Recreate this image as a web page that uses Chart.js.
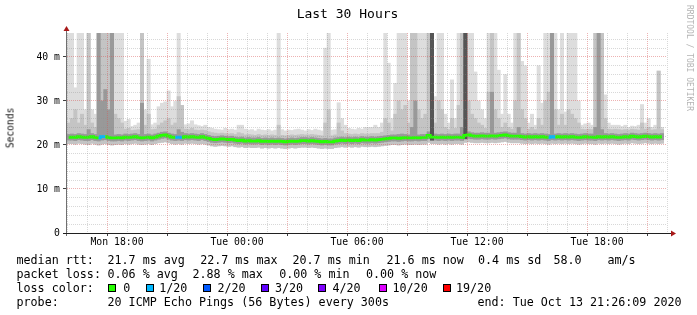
<!DOCTYPE html>
<html>
<head>
<meta charset="utf-8">
<script src="https://cdn.jsdelivr.net/npm/chart.js"></script>
<style>
  html, body { margin:0; padding:0; background:#fff; }
  #wrap { position:relative; width:697px; height:315px; overflow:hidden; background:#fff; }
  #c { position:absolute; left:0; top:0; }
  .txt { position:absolute; font-family:"DejaVu Sans Mono", monospace; white-space:pre; color:#000; }
  .leg { font-size:11.7px; line-height:14px; }
  .box { position:absolute; width:6px; height:6px; border:1px solid #000; }
</style>
</head>
<body>
<div id="wrap">
  <canvas id="c" width="697" height="315"></canvas>
  <div class="txt" style="left:0;width:695px;text-align:center;top:6px;font-size:13px;line-height:16px;">Last 30 Hours</div>
  <div class="txt" style="left:10px;top:127.5px;font-size:9.6px;line-height:11px;color:#111;transform:translate(-50%,-50%) rotate(-90deg);">Seconds</div>
  <div class="txt" style="left:684px;top:5px;font-size:8px;line-height:10px;writing-mode:vertical-rl;color:#b4b4b4;">RRDTOOL / TOBI OETIKER</div>

  <div class="txt leg" style="left:16.5px;top:253px;">median rtt:</div>
  <div class="txt leg" style="left:107.5px;top:253px;">21.7 ms avg</div>
  <div class="txt leg" style="left:200.2px;top:253px;">22.7 ms max</div>
  <div class="txt leg" style="left:292.5px;top:253px;">20.7 ms min</div>
  <div class="txt leg" style="left:386.5px;top:253px;">21.6 ms now</div>
  <div class="txt leg" style="left:478px;top:253px;">0.4 ms sd</div>
  <div class="txt leg" style="left:553.5px;top:253px;">58.0</div>
  <div class="txt leg" style="left:607.5px;top:253px;">am/s</div>

  <div class="txt leg" style="left:16.5px;top:267px;">packet loss:</div>
  <div class="txt leg" style="left:107.5px;top:267px;">0.06 % avg</div>
  <div class="txt leg" style="left:192.5px;top:267px;">2.88 % max</div>
  <div class="txt leg" style="left:279.2px;top:267px;">0.00 % min</div>
  <div class="txt leg" style="left:366px;top:267px;">0.00 % now</div>

  <div class="txt leg" style="left:16.5px;top:281px;">loss color:</div>
  <div id="lossLegend"></div>

  <div class="txt leg" style="left:16.5px;top:295px;">probe:</div>
  <div class="txt leg" style="left:107.5px;top:295px;">20 ICMP Echo Pings (56 Bytes) every 300s</div>
  <div class="txt leg" style="left:477.5px;top:295px;">end: Tue Oct 13 21:26:09 2020</div>
</div>
<script>
// ---- time axis ----
const startHour = 15.5;   // Mon 15:30
const endHour = 45.5;     // Tue 21:30
const stepMinutes = 10;
const xTickHours = [18, 24, 30, 36, 42];
const xTickLabels = ['Mon 18:00', 'Tue 00:00', 'Tue 06:00', 'Tue 12:00', 'Tue 18:00'];
const yTickValues = [0, 10, 20, 30, 40];
const yTickLabels = ['0', '10 m', '20 m', '30 m', '40 m'];
const yMax = 45.45;

// ---- loss colours ----
const lossSteps = [0, 1, 2, 3, 4, 10, 19];
const lossNames = ['0', '1/20', '2/20', '3/20', '4/20', '10/20', '19/20'];
const lossColors = ['#26ff00', '#00b8ff', '#0059ff', '#5e00ff', '#7e00ff', '#dd00ff', '#ff0000'];

// ---- median rtt (ms) ----
const median = [
 21.7,21.8,21.7,21.9,21.8,21.7,21.8,21.9,21.7,21.6,
 21.9,21.9,21.7,21.6,21.6,21.7,21.6,21.8,21.7,21.8,
 21.9,21.7,21.6,21.7,21.8,21.6,21.8,22.0,22.2,22.3,
 22.0,21.8,21.7,21.8,21.7,21.9,21.8,21.9,21.8,21.7,
 21.9,21.7,21.5,21.3,21.2,21.3,21.4,21.3,21.2,21.3,
 21.1,21.0,21.1,20.9,21.0,20.9,20.9,21.0,20.8,20.9,
 20.8,20.9,20.8,20.9,20.8,20.7,20.8,20.9,20.8,20.9,
 21.0,21.0,20.9,21.0,20.9,20.8,20.7,20.8,20.7,20.7,
 20.9,21.0,21.1,21.0,21.1,21.0,21.1,21.0,21.2,21.1,
 21.1,21.2,21.1,21.2,21.3,21.4,21.5,21.6,21.6,21.5,
 21.6,21.7,21.6,21.6,21.7,21.6,21.7,21.7,22.2,21.8,
 21.8,21.7,21.8,21.7,21.8,21.7,21.8,21.8,21.7,22.2,
 22.3,22.1,22.0,22.0,22.1,22.0,22.0,22.1,22.0,22.1,
 22.2,22.3,22.1,22.0,22.0,22.0,21.9,21.8,21.9,21.8,
 21.9,21.8,21.9,21.8,21.7,21.9,21.8,21.9,21.8,21.9,
 21.8,21.9,21.8,21.7,21.8,21.9,21.8,21.8,21.7,21.9,
 21.8,21.9,21.8,21.9,21.8,21.7,21.8,21.9,21.8,22.0,
 21.9,21.8,21.9,22.0,21.9,21.8,21.9,21.8,21.9];

// ---- lost pings (of 20) ----
const loss = [
 0,0,0,0,0,0,0,0,0,0, 1,0,0,0,0,0,0,0,0,0, 0,0,0,0,0,0,0,0,0,0, 0,0,0,1,0,0,0,0,0,0,
 0,0,0,0,0,0,0,0,0,0, 0,0,0,0,0,0,0,0,0,0, 0,0,0,0,0,0,0,0,0,0, 0,0,0,0,0,0,0,0,0,0,
 0,0,0,0,0,0,0,0,0,0, 0,0,0,0,0,0,0,0,0,0, 0,0,0,0,0,0,0,0,0,0, 0,0,0,0,0,0,0,0,0,0,
 0,0,0,0,0,0,0,0,0,0, 0,0,0,0,0,0,0,0,0,0, 0,0,0,0,0,1,0,0,0,0, 0,0,0,0,0,0,0,0,0,0,
 0,0,0,0,0,0,0,0,0,0, 0,0,0,0,0,0,0,0,0];

// ---- smoke: ping distribution (ms) ----
const pingMin = [
 20.3,20.3,20.2,20.4,20.3,20.2,20.1,20.4,20.2,20.0,
 20.2,20.3,20.1,20.0,20.1,20.2,20.1,20.3,20.2,20.3,
 20.4,20.2,20.1,20.2,20.3,20.1,20.3,20.5,20.6,20.7,
 20.5,20.3,20.2,20.3,20.2,20.4,20.3,20.4,20.3,20.2,
 20.3,20.2,20.0,19.8,19.7,19.8,19.9,19.8,19.7,19.8,
 19.6,19.5,19.6,19.4,19.5,19.4,19.4,19.5,19.3,19.4,
 19.3,19.4,19.3,19.4,19.3,19.2,19.3,19.4,19.3,19.4,
 19.5,19.5,19.4,19.5,19.4,19.3,19.2,19.3,19.2,19.2,
 19.4,19.5,19.6,19.5,19.6,19.5,19.6,19.5,19.7,19.6,
 19.6,19.7,19.6,19.7,19.8,19.9,20.0,20.1,20.1,20.0,
 20.1,20.2,20.1,20.1,20.2,20.1,20.2,20.2,20.6,20.3,
 20.3,20.2,20.3,20.2,20.3,20.2,20.3,20.3,20.2,20.6,
 20.7,20.6,20.5,20.5,20.6,20.5,20.5,20.6,20.5,20.6,
 20.7,20.8,20.6,20.5,20.5,20.5,20.4,20.3,20.4,20.3,
 20.4,20.3,20.4,20.3,20.2,20.4,20.3,20.4,20.3,20.4,
 20.3,20.4,20.3,20.2,20.3,20.4,20.3,20.3,20.2,20.4,
 20.3,20.4,20.3,20.4,20.3,20.2,20.3,20.4,20.3,20.5,
 20.4,20.3,20.4,20.5,20.4,20.3,20.4,20.3,20.4];

const pingQ1 = [
 21.1,21.1,21.0,21.2,21.1,21.0,21.0,21.2,21.0,20.9,
 21.1,21.2,21.0,20.9,20.9,21.0,20.9,21.1,21.0,21.1,
 21.2,21.0,20.9,21.0,21.1,20.9,21.1,21.3,21.5,21.6,
 21.3,21.1,21.0,21.1,21.0,21.2,21.1,21.2,21.1,21.0,
 21.2,21.0,20.8,20.6,20.5,20.6,20.7,20.6,20.5,20.6,
 20.4,20.3,20.4,20.2,20.3,20.2,20.2,20.3,20.1,20.2,
 20.1,20.2,20.1,20.2,20.1,20.0,20.1,20.2,20.1,20.2,
 20.3,20.3,20.2,20.3,20.2,20.1,20.0,20.1,20.0,20.0,
 20.2,20.3,20.4,20.3,20.4,20.3,20.4,20.3,20.5,20.4,
 20.4,20.5,20.4,20.5,20.6,20.7,20.8,20.9,20.9,20.8,
 20.9,21.0,20.9,20.9,21.0,20.9,21.0,21.0,21.4,21.1,
 21.1,21.0,21.1,21.0,21.1,21.0,21.1,21.1,21.0,21.4,
 21.5,21.4,21.3,21.3,21.4,21.3,21.3,21.4,21.3,21.4,
 21.5,21.6,21.4,21.3,21.3,21.3,21.2,21.1,21.2,21.1,
 21.2,21.1,21.2,21.1,21.0,21.2,21.1,21.2,21.1,21.2,
 21.1,21.2,21.1,21.0,21.1,21.2,21.1,21.1,21.0,21.2,
 21.1,21.2,21.1,21.2,21.1,21.0,21.1,21.2,21.1,21.3,
 21.2,21.1,21.2,21.3,21.2,21.1,21.2,21.1,21.2];

const pingMax = [
 46,46,33,46,46,28,46,28,27,46,
 46,46,46,46,46,46,46,25.4,25.8,24.2,
 24.5,25.0,46,28,39.5,24.6,25.0,28.7,29.5,29.8,
 32.3,28.7,29.9,46,29,24.6,24.8,25.5,24.6,24.4,
 24.2,24.5,24.0,23.8,23.6,23.5,23.4,23.8,23.5,23.6,
 23.4,24.5,24.5,23.6,23.4,23.5,23.2,23.6,23.4,23.3,
 23.5,23.2,23.4,46,23.5,23.2,23.4,23.3,23.5,23.6,
 23.4,23.2,23.5,23.3,23.6,23.4,23.2,42,46,23.4,
 23.5,29.6,26,24.5,23.8,23.6,23.5,23.8,23.6,24.0,
 24.0,24.0,24.5,24.0,25.0,46,38.6,26,34,46,
 46,46,30,46,46,46,46,46,46,46,
 31,46,46,27,25,34.8,26,46,46,46,
 46,46,36.6,30,28,26,46,46,46,37,
 27,36,27,25,46,46,39,38,25,27,
 24.5,38,29.5,46,46,46,46,28,46,27.5,
 46,46,46,30,24.5,24.8,25,24.5,46,46,
 46,31.4,25,24.5,24.5,24.5,24.2,24.5,24.0,24.3,
 24.2,24.5,29.2,25,26,24,24.5,36.8,24];

const ping2 = [
 25,26,28,25,27,24.5,46,25,24,46,
 46,46,46,46,27,26,25,23.6,23.8,23.3,
 23.4,23.5,46,24.5,27,23.5,23.6,24.5,25,25.5,
 26,24.5,25,31,29,23.6,23.5,23.8,23.4,23.3,
 23.4,23.3,23.0,22.8,22.7,22.6,22.7,22.6,22.5,22.6,
 22.4,22.8,22.6,22.3,22.4,22.3,22.2,22.4,22.2,22.3,
 22.2,22.3,22.2,24.5,22.2,22.1,22.2,22.3,22.2,22.3,
 22.4,22.3,22.3,22.4,22.3,22.2,22.1,25,28,22.1,
 22.3,25,23.2,22.6,22.5,22.4,22.5,22.4,22.6,22.5,
 22.5,22.6,22.6,22.6,22.9,26,25,23.2,27,30,
 28,29,25,46,46,28,26,27,46,46,
 25,30,28,24,23.5,26,23.8,29,46,46,
 30,27,26,25,24.5,23.8,32,46,28,26,
 24,25,24,23.6,30,46,28,26,23.6,24,
 23.5,26,24.5,30,32,46,28,24.5,27,24.5,
 28,27,26,25,23.6,23.5,23.6,23.5,46,46,
 46,26,23.6,23.5,23.6,23.5,23.4,23.5,23.4,23.6,
 23.5,23.4,25,23.6,24,23.4,23.5,36.8,23.5];

const ping3 = [
 22.4,22.5,22.4,22.6,22.5,22.4,23.5,22.6,22.4,46,
 30,32.6,28,46,22.3,22.4,22.3,22.5,22.4,22.5,
 22.6,22.4,29.5,22.4,22.5,22.3,22.5,22.7,22.9,23.0,
 22.7,22.5,22.4,23.5,22.9,22.6,22.5,22.6,22.5,22.4,
 22.6,22.4,22.2,22.0,21.9,22.0,22.1,22.0,21.9,22.0,
 21.8,21.7,21.8,21.6,21.7,21.6,21.6,21.7,21.5,21.6,
 21.5,21.6,21.5,21.6,21.5,21.4,21.5,21.6,21.5,21.6,
 21.7,21.7,21.6,21.7,21.6,21.5,21.4,21.5,21.4,21.4,
 21.6,21.7,21.8,21.7,21.8,21.7,21.8,21.7,21.9,21.8,
 21.8,21.9,21.8,21.9,22.0,22.1,22.2,22.3,22.3,22.4,
 22.5,22.4,22.3,24,30,22.3,22.4,22.4,23,46,
 22.5,22.4,22.5,22.4,22.5,22.4,22.5,22.5,24,46,
 23.0,22.8,22.7,22.7,22.8,22.7,22.7,32,22.7,22.8,
 22.9,23.0,22.8,22.7,22.7,24,22.6,22.5,22.6,22.5,
 22.6,22.5,22.6,22.5,22.4,46,22.5,22.6,22.5,22.6,
 22.5,22.6,22.5,22.4,22.5,22.6,22.5,22.5,24,46,
 23.5,22.6,22.5,22.6,22.5,22.4,22.5,22.6,22.5,22.7,
 22.6,22.5,22.6,22.7,22.6,22.5,22.6,22.5,22.6];

const _ = null;
const ping4 = [
 _,_,_,_,_,_,_,_,_,_, _,_,_,_,_,_,_,_,_,_, _,_,_,_,_,_,_,_,_,_, _,_,_,_,_,_,_,_,_,_,
 _,_,_,_,_,_,_,_,_,_, _,_,_,_,_,_,_,_,_,_, _,_,_,_,_,_,_,_,_,_, _,_,_,_,_,_,_,_,_,_,
 _,_,_,_,_,_,_,_,_,_, _,_,_,_,_,_,_,_,_,_, _,_,_,_,_,_,_,_,_,46, _,_,_,_,_,_,_,_,_,46,
 _,_,_,_,_,_,_,_,_,_, _,_,_,_,_,_,_,_,_,_, _,_,_,_,_,_,_,_,_,_, _,_,_,_,_,_,_,_,_,_,
 _,_,_,_,_,_,_,_,_,_, _,_,_,_,_,_,_,_,_];

// ---------------------------------------------------------------
const xs = median.map((_v, i) => startHour + (i + 0.5) * stepMinutes / 60);
function band(lo, hi) {
  const out = [];
  xs.forEach((x, i) => { if (hi[i] != null) out.push({ x: x, y: [lo[i], hi[i]] }); });
  return out;
}
function lossColor(n) {
  let c = lossColors[0];
  lossSteps.forEach((s, j) => { if (n >= s) c = lossColors[j]; });
  return c;
}

// loss legend (boxes + labels)
const boxLeft = [108, 145.5, 203, 260.5, 318, 378.5, 442.5];
const labLeft = [123.2, 159.2, 217.5, 275, 332.5, 392.5, 456];
const ll = document.getElementById('lossLegend');
lossNames.forEach((name, j) => {
  const b = document.createElement('div');
  b.className = 'box'; b.style.left = boxLeft[j] + 'px'; b.style.top = '284px';
  b.style.background = lossColors[j];
  ll.appendChild(b);
  const t = document.createElement('div');
  t.className = 'txt leg'; t.style.left = labLeft[j] + 'px'; t.style.top = '281px';
  t.textContent = name;
  ll.appendChild(t);
});

const minorGrid = 'rgba(140,140,140,0.34)';
const majorGrid = 'rgba(215,85,85,0.45)';
const tickFont = { family: 'DejaVu Sans Mono', size: 9.8 };

const axesPlugin = {
  id: 'rrdAxes',
  afterDraw(chart) {
    const { ctx, chartArea: a } = chart;
    ctx.save();
    ctx.lineWidth = 1;
    ctx.strokeStyle = '#707070';
    ctx.beginPath(); ctx.moveTo(a.left - 0.5, a.bottom + 3); ctx.lineTo(a.left - 0.5, a.top - 4); ctx.stroke();
    ctx.strokeStyle = '#202020';
    ctx.beginPath(); ctx.moveTo(a.left - 4, a.bottom + 0.5); ctx.lineTo(a.right + 4, a.bottom + 0.5); ctx.stroke();
    ctx.fillStyle = '#a81818';
    ctx.beginPath(); ctx.moveTo(a.left - 0.5, a.top - 7); ctx.lineTo(a.left - 3.5, a.top - 2); ctx.lineTo(a.left + 2.5, a.top - 2); ctx.closePath(); ctx.fill();
    ctx.beginPath(); ctx.moveTo(a.right + 9, a.bottom + 0.5); ctx.lineTo(a.right + 4, a.bottom - 2.5); ctx.lineTo(a.right + 4, a.bottom + 3.5); ctx.closePath(); ctx.fill();
    ctx.restore();
  }
};

const barCommon = { type: 'bar', barPercentage: 1, categoryPercentage: 1, grouped: false, borderWidth: 0 };

new Chart(document.getElementById('c'), {
  type: 'bar',
  data: {
    datasets: [
      {
        type: 'line', label: 'median rtt', order: 0,
        data: xs.map((x, i) => ({ x: x, y: median[i] })),
        borderColor: lossColors[0], borderWidth: 2.7, pointRadius: 0, stepped: 'middle',
        borderCapStyle: 'butt',
        segment: { borderColor: c => lossColor(Math.max(loss[c.p0DataIndex], loss[c.p1DataIndex])) }
      },
      Object.assign({ label: 'smoke 4', order: 1, data: band(pingQ1, ping4), backgroundColor: '#555555' }, barCommon),
      Object.assign({ label: 'smoke 3', order: 2, data: band(pingQ1, ping3), backgroundColor: '#999999' }, barCommon),
      Object.assign({ label: 'smoke 2', order: 3, data: band(pingMin, ping2), backgroundColor: '#c4c4c4' }, barCommon),
      Object.assign({ label: 'smoke 1', order: 4, data: band(pingMin, pingMax), backgroundColor: '#dddddd' }, barCommon)
    ]
  },
  options: {
    responsive: false,
    animation: false,
    devicePixelRatio: 1,
    layout: { padding: { left: 0, right: 30, top: 33, bottom: 0 } },
    plugins: { legend: { display: false }, tooltip: { enabled: false }, title: { display: false } },
    scales: {
      x: {
        type: 'linear', min: startHour, max: endHour, offset: false,
        afterBuildTicks: s => { const t = []; for (let h = Math.ceil(startHour); h < endHour; h++) t.push({ value: h }); s.ticks = t; },
        afterFit: s => { s.height = 82; },
        ticks: {
          autoSkip: false, maxRotation: 0, minRotation: 0, padding: 1, color: '#000', font: tickFont,
          callback: v => { const i = xTickHours.indexOf(v); return i >= 0 ? xTickLabels[i] : ''; }
        },
        grid: {
          z: 1, lineWidth: 1, drawTicks: true, tickLength: 3, tickBorderDash: [],
          color: c => (c.tick && c.tick.value % 3 === 0) ? majorGrid : minorGrid,
          tickColor: c => (c.tick && c.tick.value % 3 === 0) ? '#404040' : 'rgba(0,0,0,0)'
        },
        border: { display: false, dash: [1, 1] }
      },
      y: {
        min: 0, max: yMax,
        afterBuildTicks: s => { const t = []; for (let v = 0; v <= 44; v += 2) t.push({ value: v }); s.ticks = t; },
        afterFit: s => { s.width = 67; },
        ticks: {
          autoSkip: false, padding: 3, color: '#000', font: tickFont,
          callback: v => { const i = yTickValues.indexOf(v); return i >= 0 ? yTickLabels[i] : ''; }
        },
        grid: {
          z: 1, lineWidth: 1, drawTicks: true, tickLength: 4, tickBorderDash: [],
          color: c => (c.tick && c.tick.value === 0) ? 'rgba(0,0,0,0)' : (c.tick && c.tick.value % 10 === 0 ? majorGrid : minorGrid),
          tickColor: c => (c.tick && c.tick.value % 10 === 0) ? '#404040' : 'rgba(0,0,0,0)'
        },
        border: { display: false, dash: [1, 1] }
      }
    }
  },
  plugins: [axesPlugin]
});
</script>
</body>
</html>
